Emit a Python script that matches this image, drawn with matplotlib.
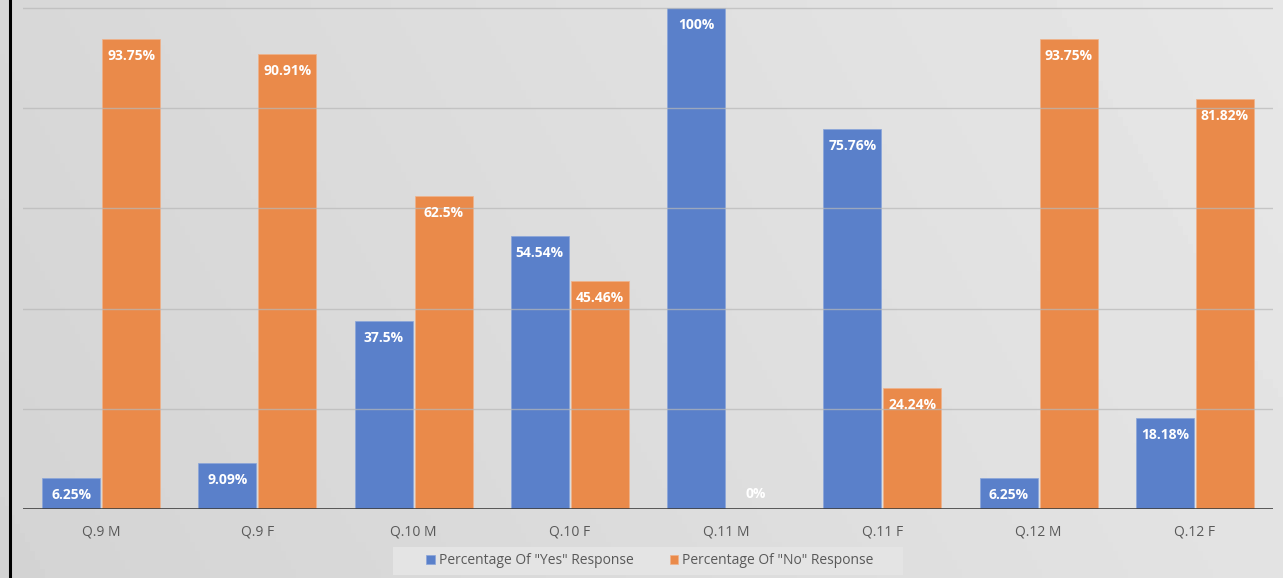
import numpy as np
import matplotlib
matplotlib.use("Agg")
import matplotlib.pyplot as plt
from matplotlib.patches import Rectangle
from matplotlib.lines import Line2D

categories = ["Q.9 M", "Q.9 F", "Q.10 M", "Q.10 F", "Q.11 M", "Q.11 F", "Q.12 M", "Q.12 F"]
yes_values = [6.25, 9.09, 37.5, 54.54, 100, 75.76, 6.25, 18.18]
no_values = [93.75, 90.91, 62.5, 45.46, 0, 24.24, 93.75, 81.82]
yes_labels = ["6.25%", "9.09%", "37.5%", "54.54%", "100%", "75.76%", "6.25%", "18.18%"]
no_labels = ["93.75%", "90.91%", "62.5%", "45.46%", "0%", "24.24%", "93.75%", "81.82%"]
series_names = ['Percentage Of "Yes" Response', 'Percentage Of "No" Response']

BLUE = "#5a80ca"
ORANGE = "#ea8a4a"
W, H = 1283, 578

fig = plt.figure(figsize=(W / 100, H / 100), dpi=100)
fig.patch.set_facecolor("#d9d9d9")

# soft grey background gradient
bg = fig.add_axes([0, 0, 1, 1], zorder=-10)
gx = np.linspace(0, 1, 256)
gy = np.linspace(0, 1, 64)
GX, GY = np.meshgrid(gx, gy)
grad = 0.83 + 0.06 * GX + 0.015 * (1 - GY)
bg.imshow(grad, cmap="gray", vmin=0, vmax=1, aspect="auto", extent=[0, 1, 0, 1])
bg.set_axis_off()

left, right = 23 / W, 1273 / W
bottom = (H - 509) / H
ax = fig.add_axes([left, bottom, right - left, 1 - bottom])
ax.set_facecolor("none")

x = np.arange(len(categories))
bw = 58 / 156.25
gap = 2 / 156.25
off = (bw + gap) / 2

b1 = ax.bar(x - off, yes_values, bw, color=BLUE, edgecolor="#8aa5da", linewidth=0.5, zorder=2,
            label=series_names[0])
b2 = ax.bar(x + off, no_values, bw, color=ORANGE, edgecolor="#f0b28a", linewidth=0.5, zorder=2,
            label=series_names[1])

ax.set_xlim(-0.5, len(categories) - 0.5)
ax.set_ylim(0, 101.6)

for yv in [20, 40, 60, 80, 100]:
    ax.axhline(yv, color="#b8b8b8", linewidth=1.0, zorder=3, alpha=0.7)
ax.axhline(0, color="#404040", linewidth=1.2, zorder=4)

lab_font = dict(color="white", fontsize=10, fontweight="bold", family="Open Sans",
                ha="center", va="top", zorder=5)
for xi, v, t in zip(x - off, yes_values, yes_labels):
    ax.text(xi, v - 2.0, t, **lab_font)
for xi, v, t in zip(x + off, no_values, no_labels):
    if v < 5:
        ax.text(xi, v + 4.4, t, **lab_font)
    else:
        ax.text(xi, v - 2.0, t, **lab_font)

for s in ax.spines.values():
    s.set_visible(False)
ax.set_yticks([])
ax.set_xticks(x)
ax.set_xticklabels(categories, fontsize=10, color="#595959", family="Open Sans")
ax.tick_params(axis="x", length=0, pad=11)

# legend band
fig.patches.append(Rectangle((393 / W, (H - 575) / H), (903 - 393) / W, 28 / H,
                             transform=fig.transFigure, facecolor="#e4e4e4",
                             edgecolor="none", zorder=-5))
leg = fig.legend(handles=[b1, b2], labels=series_names, loc="center",
                 bbox_to_anchor=(650 / W, (H - 561) / H), ncol=2, frameon=False,
                 handlelength=0.6, handleheight=0.6, handletextpad=0.3,
                 columnspacing=2.6, prop={"family": "Open Sans", "size": 10})
for t in leg.get_texts():
    t.set_color("#595959")

# dark left border
fig.add_artist(Line2D([9.5 / W, 9.5 / W], [0, 1], transform=fig.transFigure,
                      color="black", linewidth=2.2))

fig.savefig("out.png", dpi=100, facecolor=fig.get_facecolor())
